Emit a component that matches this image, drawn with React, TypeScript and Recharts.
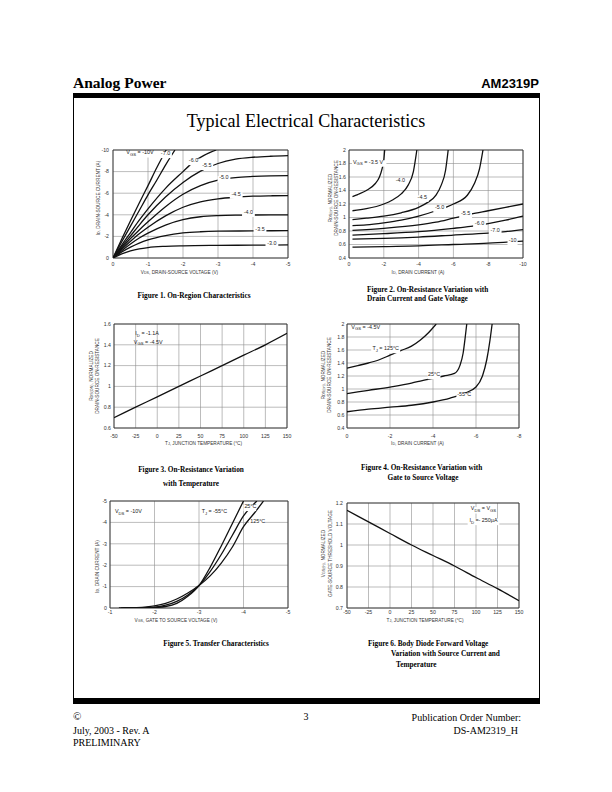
import React from "react";
import {
  CartesianGrid,
  Line,
  LineChart,
  ReferenceArea,
  ReferenceDot,
  XAxis,
  YAxis,
} from "recharts";

type XY = [number, number];

// ---------- Figure 1: I_D vs V_DS, one curve per V_GS ----------
const fig1Vds = [-5, -4, -3, -2, -1, 0];
const fig1Id = [-10, -8, -6, -4, -2, 0];
const fig1Vgs10: XY[] = [[0, 0], [-0.25, -1.75], [-0.5, -3.45], [-0.75, -5.1], [-1, -6.7], [-1.25, -8.35], [-1.52, -10]];
const fig1Vgs7: XY[] = [[0, 0], [-0.25, -1.5], [-0.5, -2.95], [-0.75, -4.4], [-1, -5.85], [-1.25, -7.2], [-1.5, -8.6], [-1.77, -10]];
const fig1Vgs6: XY[] = [[0, 0], [-0.25, -1.2], [-0.5, -2.35], [-0.75, -3.5], [-1, -4.55], [-1.5, -6.45], [-2, -8.0], [-2.3, -8.9], [-2.6, -9.5], [-2.95, -10]];
const fig1Vgs55: XY[] = [[0, 0], [-0.25, -1.05], [-0.5, -2.05], [-0.75, -3.05], [-1, -4.0], [-1.5, -5.65], [-2, -7.0], [-2.5, -8.05], [-3, -8.75], [-3.5, -9.15], [-4, -9.33], [-4.5, -9.42], [-5, -9.47]];
const fig1Vgs5: XY[] = [[0, 0], [-0.25, -0.92], [-0.5, -1.8], [-0.75, -2.6], [-1, -3.35], [-1.5, -4.75], [-2, -5.9], [-2.5, -6.7], [-3, -7.2], [-3.5, -7.45], [-4, -7.55], [-4.5, -7.6], [-5, -7.62]];
const fig1Vgs45: XY[] = [[0, 0], [-0.25, -0.8], [-0.5, -1.55], [-0.75, -2.25], [-1, -2.85], [-1.5, -3.9], [-2, -4.7], [-2.5, -5.2], [-3, -5.48], [-3.5, -5.63], [-4, -5.72], [-4.5, -5.76], [-5, -5.78]];
const fig1Vgs4: XY[] = [[0, 0], [-0.25, -0.68], [-0.5, -1.3], [-0.75, -1.85], [-1, -2.3], [-1.5, -3.05], [-2, -3.55], [-2.5, -3.82], [-3, -3.93], [-3.5, -3.97], [-4, -3.98], [-5, -4.0]];
const fig1Vgs35: XY[] = [[0, 0], [-0.25, -0.55], [-0.5, -1.0], [-0.75, -1.38], [-1, -1.68], [-1.5, -2.08], [-2, -2.32], [-2.5, -2.43], [-3, -2.48], [-4, -2.51], [-5, -2.53]];
const fig1Vgs3: XY[] = [[0, 0], [-0.25, -0.38], [-0.5, -0.66], [-0.75, -0.85], [-1, -0.97], [-1.5, -1.08], [-2, -1.13], [-3, -1.17], [-4, -1.19], [-5, -1.21]];

// ---------- Figure 2: R_DS(on) vs I_D per V_GS ----------
const fig2Id = [-10, -8, -6, -4, -2, 0];
const fig2IdMinor = [-9, -7, -5, -3, -1];
const fig2R = [0.4, 0.6, 0.8, 1, 1.2, 1.4, 1.6, 1.8, 2];
const fig2Vgs35: XY[] = [[-0.2, 1.31], [-0.5, 1.34], [-1, 1.4], [-1.5, 1.5], [-1.75, 1.6], [-1.9, 1.72], [-2, 1.85], [-2.05, 2]];
const fig2Vgs4: XY[] = [[-0.2, 1.1], [-1, 1.13], [-2, 1.2], [-2.5, 1.26], [-3, 1.35], [-3.4, 1.48], [-3.7, 1.68], [-3.9, 2]];
const fig2Vgs45: XY[] = [[-0.2, 0.97], [-1, 0.99], [-2, 1.02], [-3, 1.07], [-4, 1.15], [-4.5, 1.22], [-5, 1.33], [-5.3, 1.48], [-5.55, 1.7], [-5.7, 2]];
const fig2Vgs5: XY[] = [[-0.2, 0.88], [-1, 0.89], [-2, 0.92], [-3, 0.96], [-4, 1.02], [-5, 1.1], [-6, 1.2], [-6.8, 1.33], [-7.2, 1.5], [-7.5, 1.72], [-7.7, 2]];
const fig2Vgs55: XY[] = [[-0.2, 0.81], [-2, 0.84], [-4, 0.89], [-5, 0.93], [-6, 0.99], [-7, 1.05], [-8, 1.1], [-9, 1.15], [-10, 1.2]];
const fig2Vgs6: XY[] = [[-0.2, 0.74], [-2, 0.76], [-4, 0.79], [-6, 0.84], [-7, 0.87], [-8, 0.91], [-9, 0.96], [-10, 1.02]];
const fig2Vgs7: XY[] = [[-0.2, 0.68], [-2, 0.69], [-4, 0.71], [-6, 0.74], [-8, 0.77], [-9, 0.79], [-10, 0.82]];
const fig2Vgs10: XY[] = [[-0.2, 0.56], [-2, 0.57], [-4, 0.58], [-6, 0.6], [-8, 0.62], [-10, 0.65]];

// ---------- Figure 3: R_DS(on) vs T_J ----------
const tempTicks = [-50, -25, 0, 25, 50, 75, 100, 125, 150];
const tempMinor = [
  -45, -40, -35, -30, -20, -15, -10, -5, 5, 10, 15, 20, 30, 35, 40, 45,
  55, 60, 65, 70, 80, 85, 90, 95, 105, 110, 115, 120, 130, 135, 140, 145,
];
const fig3R = [0.6, 0.8, 1, 1.2, 1.4, 1.6];
const fig3Curve: XY[] = [[-50, 0.7], [-25, 0.8], [0, 0.9], [25, 1.0], [50, 1.1], [75, 1.2], [100, 1.3], [125, 1.4], [150, 1.51]];

// ---------- Figure 4: R_DS(on) vs I_D per T_J ----------
const fig4Id = [-8, -6, -4, -2, 0];
const fig4IdMinor = [-7, -5, -3, -1];
const fig4R = [0.4, 0.6, 0.8, 1, 1.2, 1.4, 1.6, 1.8, 2];
const fig4T125: XY[] = [[0, 1.32], [-0.5, 1.36], [-1, 1.4], [-1.5, 1.45], [-2, 1.52], [-2.5, 1.59], [-3, 1.66], [-3.4, 1.75], [-3.8, 1.87], [-4.15, 2]];
const fig4T25: XY[] = [[0, 0.93], [-1, 0.98], [-2, 1.03], [-3, 1.09], [-3.5, 1.13], [-4.5, 1.2], [-5, 1.24], [-5.25, 1.36], [-5.4, 1.55], [-5.5, 1.8], [-5.57, 2]];
const fig4Tm55: XY[] = [[0, 0.65], [-1, 0.69], [-2, 0.72], [-3, 0.75], [-4, 0.8], [-4.8, 0.86], [-5.5, 0.94], [-6, 1.03], [-6.3, 1.2], [-6.5, 1.45], [-6.65, 1.75], [-6.75, 2]];

// ---------- Figure 5: I_D vs V_GS per T_J ----------
const fig5Vgs = [-5, -4, -3, -2, -1];
const fig5Id = [-5, -4, -3, -2, -1, 0];
const fig5Tm55: XY[] = [[-1.3, 0], [-1.8, -0.01], [-2, -0.02], [-2.25, -0.07], [-2.5, -0.22], [-2.75, -0.55], [-3, -1.05], [-3.25, -1.9], [-3.5, -2.9], [-3.75, -3.95], [-4, -5]];
const fig5T25: XY[] = [[-1.25, 0], [-1.8, -0.02], [-2, -0.04], [-2.25, -0.13], [-2.5, -0.31], [-2.75, -0.61], [-3, -1.05], [-3.25, -1.7], [-3.5, -2.5], [-3.75, -3.4], [-4, -4.3], [-4.3, -5]];
const fig5T125: XY[] = [[-1.2, 0], [-1.6, -0.02], [-2, -0.1], [-2.25, -0.22], [-2.5, -0.42], [-2.75, -0.7], [-3, -1.05], [-3.25, -1.5], [-3.5, -2.1], [-3.75, -2.85], [-4, -3.8], [-4.25, -4.45], [-4.45, -5]];

// ---------- Figure 6: V_GS(th) vs T_J ----------
const fig6V = [0.7, 0.8, 0.9, 1, 1.1, 1.2];
const fig6Curve: XY[] = [[-50, 1.165], [-25, 1.11], [0, 1.055], [25, 1.0], [50, 0.95], [75, 0.9], [100, 0.845], [125, 0.792], [150, 0.735]];

const SANS = '"Liberation Sans", Arial, Helvetica, sans-serif';
const SERIF = '"Liberation Serif", "Times New Roman", Times, serif';
const PAD = { l: 44, t: 6, r: 8, b: 30 };

interface Tag {
  x: number;
  y: number;
  text: string;
  anchor?: "start" | "middle" | "end";
  bg?: boolean;
}

interface PanelProps {
  x: number;
  y: number;
  w: number;
  h: number;
  xDomain: [number, number];
  yDomain: [number, number];
  xTicks: number[];
  xMinor?: number[];
  yTicks: number[];
  xRev?: boolean;
  yRev?: boolean;
  xGap: number;
  yGap: number;
  curves: XY[][];
  tags: Tag[];
  yTitle: { lines: string[]; dx: number[]; dy: number };
  xTitle: { text: string; dx: number; dy: number };
}

// "I_{D}" style text -> tspans with subscripts
function Rich({ text, fs }: { text: string; fs: number }) {
  const parts = text.split(/(_\{[^}]*\})/).filter((p) => p !== "");
  let shifted = false;
  return (
    <>
      {parts.map((p, i) => {
        const m = p.match(/^_\{(.*)\}$/);
        if (m) {
          shifted = true;
          return (
            <tspan key={i} dy={fs * 0.3} fontSize={fs * 0.78}>
              {m[1]}
            </tspan>
          );
        }
        const dy = shifted ? -fs * 0.3 : 0;
        shifted = false;
        return (
          <tspan key={i} dy={dy}>
            {p}
          </tspan>
        );
      })}
    </>
  );
}

const plainLen = (t: string) => t.replace(/_\{([^}]*)\}/g, "$1").length;

function TagMark({ cx, cy, tag }: { cx: number; cy: number; tag: Tag }) {
  const fs = 5.4;
  const anchor = tag.anchor ?? "middle";
  const w = plainLen(tag.text) * fs * 0.5 + 2;
  const x0 = anchor === "start" ? cx - 1 : anchor === "end" ? cx - w + 1 : cx - w / 2;
  return (
    <g>
      {tag.bg !== false && (
        <rect x={x0} y={cy - fs * 0.6} width={w} height={fs * 1.2} fill="#fff" />
      )}
      <text
        x={cx}
        y={cy}
        dy={fs * 0.35}
        textAnchor={anchor}
        fontSize={fs}
        fontFamily={SANS}
        fill="#222"
      >
        <Rich text={tag.text} fs={fs} />
      </text>
    </g>
  );
}

function Panel(p: PanelProps) {
  const W = p.w + PAD.l + PAD.r;
  const H = p.h + PAD.t + PAD.b;
  const midX = PAD.l + p.w / 2;
  const midY = PAD.t + p.h / 2;
  const tickStyle = { fontSize: 5.2, fill: "#333", fontFamily: SANS };
  const titleFs = 4.7;
  return (
    <div style={{ position: "absolute", left: p.x - PAD.l, top: p.y - PAD.t, width: W, height: H }}>
      <LineChart width={W} height={H} margin={{ top: PAD.t, right: PAD.r, left: 0, bottom: 0 }}>
        <CartesianGrid stroke="#8f8f8f" strokeWidth={0.6} />
        <XAxis
          type="number"
          dataKey="x"
          domain={p.xDomain}
          ticks={p.xTicks}
          reversed={p.xRev}
          allowDataOverflow
          interval={0}
          height={PAD.b}
          axisLine={false}
          tickLine={false}
          tickSize={0}
          tickMargin={p.xGap}
          tick={tickStyle}
        />
        {p.xMinor && (
          <XAxis
            xAxisId="minor"
            type="number"
            dataKey="x"
            domain={p.xDomain}
            ticks={p.xMinor}
            reversed={p.xRev}
            allowDataOverflow
            interval={0}
            mirror
            axisLine={false}
            tick={false}
            tickLine={{ stroke: "#444", strokeWidth: 0.6 }}
            tickSize={1.8}
          />
        )}
        <YAxis
          type="number"
          domain={p.yDomain}
          ticks={p.yTicks}
          reversed={p.yRev}
          allowDataOverflow
          interval={0}
          width={PAD.l}
          axisLine={false}
          tickLine={false}
          tickSize={0}
          tickMargin={p.yGap}
          tick={tickStyle}
        />
        <ReferenceArea
          x1={p.xDomain[0]}
          x2={p.xDomain[1]}
          y1={p.yDomain[0]}
          y2={p.yDomain[1]}
          fill="none"
          fillOpacity={0}
          stroke="#333"
          strokeWidth={0.9}
        />
        {p.curves.map((c, i) => (
          <Line
            key={i}
            data={c.map(([x, y]) => ({ x, y }))}
            dataKey="y"
            type="monotone"
            stroke="#111"
            strokeWidth={1.3}
            dot={false}
            activeDot={false}
            isAnimationActive={false}
          />
        ))}
        {p.tags.map((t, i) => (
          <ReferenceDot
            key={`tag-${i}`}
            x={t.x}
            y={t.y}
            r={0}
            ifOverflow="visible"
            shape={(props: any) => <TagMark cx={props.cx} cy={props.cy} tag={t} />}
          />
        ))}
      </LineChart>
      <svg
        width={W}
        height={H}
        style={{ position: "absolute", left: 0, top: 0, pointerEvents: "none", overflow: "visible" }}
      >
        {p.yTitle.lines.map((line, i) => (
          <text
            key={i}
            transform={`translate(${PAD.l + p.yTitle.dx[i]},${midY + p.yTitle.dy}) rotate(-90)`}
            textAnchor="middle"
            dominantBaseline="central"
            fontSize={titleFs}
            fontFamily={SANS}
            fill="#333"
          >
            <Rich text={line} fs={titleFs} />
          </text>
        ))}
        <text
          x={midX + p.xTitle.dx}
          y={PAD.t + p.h + p.xTitle.dy}
          textAnchor="middle"
          dominantBaseline="central"
          fontSize={titleFs}
          fontFamily={SANS}
          fill="#333"
        >
          <Rich text={p.xTitle.text} fs={titleFs} />
        </text>
      </svg>
    </div>
  );
}

function Txt({
  x,
  y,
  size,
  bold,
  align = "left",
  font = SERIF,
  children,
}: {
  x: number;
  y: number;
  size: number;
  bold?: boolean;
  align?: "left" | "right" | "center";
  font?: string;
  children: React.ReactNode;
}) {
  // y is the baseline
  const style: React.CSSProperties = {
    position: "absolute",
    top: y - size * 0.84,
    fontSize: size,
    lineHeight: `${size}px`,
    fontWeight: bold ? 700 : 400,
    fontFamily: font,
    whiteSpace: "nowrap",
  };
  if (align === "left") style.left = x;
  else if (align === "right") style.right = 612 - x;
  else {
    style.left = x;
    style.transform = "translateX(-50%)";
  }
  return <div style={style}>{children}</div>;
}

export default function App() {
  return (
    <div
      style={{
        position: "absolute",
        left: 0,
        top: 0,
        width: 612,
        height: 792,
        background: "#fff",
        color: "#000",
        fontFamily: SERIF,
        overflow: "hidden",
      }}
    >
      {/* header */}
      <Txt x={73} y={88} size={15.5} bold>
        Analog Power
      </Txt>
      <Txt x={539} y={88} size={13} bold align="right" font={SANS}>
        AM2319P
      </Txt>
      <div style={{ position: "absolute", left: 72.5, top: 93, width: 467.5, height: 5, background: "#000" }} />
      <div
        style={{
          position: "absolute",
          left: 72.5,
          top: 97,
          width: 467.5,
          height: 602,
          boxSizing: "border-box",
          border: "1.3px solid #000",
        }}
      />
      <div style={{ position: "absolute", left: 72.5, top: 698, width: 467.5, height: 6, background: "#000" }} />
      <Txt x={306} y={127} size={18} align="center">
        Typical Electrical Characteristics
      </Txt>

      {/* Figure 1 */}
      <Panel
        x={113}
        y={150}
        w={175}
        h={108}
        xDomain={[-5, 0]}
        yDomain={[-10, 0]}
        xTicks={fig1Vds}
        yTicks={fig1Id}
        xRev
        yRev
        xGap={4.5}
        yGap={4}
        curves={[fig1Vgs10, fig1Vgs7, fig1Vgs6, fig1Vgs55, fig1Vgs5, fig1Vgs45, fig1Vgs4, fig1Vgs35, fig1Vgs3]}
        tags={[
          { x: -0.38, y: -9.6, text: "V_{GS} = -10V", anchor: "start" },
          { x: -1.5, y: -9.55, text: "-7.0" },
          { x: -2.3, y: -8.9, text: "-6.0" },
          { x: -2.68, y: -8.44, text: "-5.5" },
          { x: -3.17, y: -7.28, text: "-5.0" },
          { x: -3.52, y: -5.78, text: "-4.5" },
          { x: -3.87, y: -4.1, text: "-4.0" },
          { x: -4.2, y: -2.53, text: "-3.5" },
          { x: -4.54, y: -1.18, text: "-3.0" },
        ]}
        yTitle={{ lines: ["I_{D}, DRAIN-SOURCE CURRENT (A)"], dx: [-15], dy: -6 }}
        xTitle={{ text: "V_{DS}, DRAIN-SOURCE VOLTAGE (V)", dx: -21, dy: 14 }}
      />

      {/* Figure 2 */}
      <Panel
        x={349}
        y={150}
        w={174}
        h={108}
        xDomain={[-10, 0]}
        yDomain={[0.4, 2]}
        xTicks={fig2Id}
        xMinor={fig2IdMinor}
        yTicks={fig2R}
        xRev
        xGap={4.5}
        yGap={3}
        curves={[fig2Vgs35, fig2Vgs4, fig2Vgs45, fig2Vgs5, fig2Vgs55, fig2Vgs6, fig2Vgs7, fig2Vgs10]}
        tags={[
          { x: -0.23, y: 1.8, text: "V_{GS} = -3.5 V", anchor: "start" },
          { x: -2.95, y: 1.53, text: "-4.0" },
          { x: -4.21, y: 1.28, text: "-4.5" },
          { x: -5.21, y: 1.13, text: "-5.0" },
          { x: -6.7, y: 1.03, text: "-5.5" },
          { x: -7.5, y: 0.89, text: "-6.0" },
          { x: -8.4, y: 0.78, text: "-7.0" },
          { x: -9.4, y: 0.64, text: "-10" },
        ]}
        yTitle={{ lines: ["R_{DS(on)}, NORMALIZED", "DRAIN-SOURCE ON-RESISTANCE"], dx: [-19, -13.5], dy: -6 }}
        xTitle={{ text: "I_{D}, DRAIN CURRENT (A)", dx: -18, dy: 14 }}
      />
      <Txt x={303} y={298} size={7.3} bold align="center">
        <span style={{ position: "relative", left: -109 }}>Figure 1. On-Region Characteristics</span>
      </Txt>
      <Txt x={367} y={292} size={7.3} bold>
        Figure 2. On-Resistance Variation with
      </Txt>
      <Txt x={367} y={301} size={7.3} bold>
        Drain Current and Gate Voltage
      </Txt>

      {/* Figure 3 */}
      <Panel
        x={114}
        y={324}
        w={173}
        h={104}
        xDomain={[-50, 150]}
        yDomain={[0.6, 1.6]}
        xTicks={tempTicks}
        xMinor={tempMinor}
        yTicks={fig3R}
        xGap={6}
        yGap={3}
        curves={[fig3Curve]}
        tags={[
          { x: -25.3, y: 1.49, text: "I_{D} = -1.1A", anchor: "start", bg: false },
          { x: -27.1, y: 1.41, text: "V_{GS} = -4.5V", anchor: "start", bg: false },
        ]}
        yTitle={{ lines: ["R_{DS(ON)}, NORMALIZED", "DRAIN-SOURCE ON-RESISTANCE"], dx: [-23, -17], dy: 0 }}
        xTitle={{ text: "T_{J}, JUNCTION TEMPERATURE (°C)", dx: 3, dy: 15 }}
      />

      {/* Figure 4 */}
      <Panel
        x={347}
        y={324}
        w={172}
        h={104}
        xDomain={[-8, 0]}
        yDomain={[0.4, 2]}
        xTicks={fig4Id}
        xMinor={fig4IdMinor}
        yTicks={fig4R}
        xRev
        xGap={6}
        yGap={2.5}
        curves={[fig4T125, fig4T25, fig4Tm55]}
        tags={[
          { x: -0.2, y: 1.93, text: "V_{GS} = -4.5V", anchor: "start", bg: false },
          { x: -1.8, y: 1.6, text: "T_{J} = 125°C" },
          { x: -4.05, y: 1.2, text: "25°C" },
          { x: -5.45, y: 0.89, text: "-55°C" },
        ]}
        yTitle={{ lines: ["R_{DS(on)}, NORMALIZED", "DRAIN-SOURCE ON-RESISTANCE"], dx: [-24, -18], dy: -1 }}
        xTitle={{ text: "I_{D}, DRAIN CURRENT (A)", dx: -15.5, dy: 15 }}
      />
      <Txt x={191} y={472} size={7.3} bold align="center">
        Figure 3. On-Resistance Variation
      </Txt>
      <Txt x={191} y={486} size={7.3} bold align="center">
        with Temperature
      </Txt>
      <Txt x={361} y={470} size={7.3} bold>
        Figure 4. On-Resistance Variation with
      </Txt>
      <Txt x={423} y={480} size={7.3} bold align="center">
        Gate to Source Voltage
      </Txt>

      {/* Figure 5 */}
      <Panel
        x={110}
        y={501}
        w={178}
        h={107}
        xDomain={[-5, -1]}
        yDomain={[-5, 0]}
        xTicks={fig5Vgs}
        yTicks={fig5Id}
        xRev
        yRev
        xGap={2.5}
        yGap={3}
        curves={[fig5Tm55, fig5T25, fig5T125]}
        tags={[
          { x: -1.11, y: -4.42, text: "V_{DS} = -10V", anchor: "start", bg: false },
          { x: -3.06, y: -4.42, text: "T_{J} = -55°C", anchor: "start", bg: false },
          { x: -4.02, y: -4.68, text: "25°C", anchor: "start" },
          { x: -4.15, y: -3.95, text: "125°C", anchor: "start" },
        ]}
        yTitle={{ lines: ["I_{D}, DRAIN CURRENT (A)"], dx: [-13.3], dy: 12 }}
        xTitle={{ text: "V_{GS}, GATE TO SOURCE VOLTAGE (V)", dx: -23, dy: 12 }}
      />

      {/* Figure 6 */}
      <Panel
        x={347}
        y={503}
        w={172}
        h={105}
        xDomain={[-50, 150]}
        yDomain={[0.7, 1.2]}
        xTicks={tempTicks}
        xMinor={tempMinor}
        yTicks={fig6V}
        xGap={2.5}
        yGap={4}
        curves={[fig6Curve]}
        tags={[
          { x: 108.7, y: 1.165, text: "V_{DS} = V_{GS}" },
          { x: 108.7, y: 1.11, text: "I_{D} =- 250µA" },
        ]}
        yTitle={{ lines: ["V_{GS(th)}, NORMALIZED", "GATE-SOURCE THRESHOLD VOLTAGE"], dx: [-24, -16.6], dy: -2 }}
        xTitle={{ text: "T_{J}, JUNCTION TEMPERATURE (°C)", dx: -8, dy: 12 }}
      />
      <Txt x={216} y={646} size={7.3} bold align="center">
        Figure 5. Transfer Characteristics
      </Txt>
      <Txt x={368} y={646} size={7.3} bold>
        Figure 6. Body Diode Forward Voltage
      </Txt>
      <Txt x={391} y={656} size={7.3} bold>
        Variation with Source Current and
      </Txt>
      <Txt x={396} y={667} size={7.3} bold>
        Temperature
      </Txt>

      {/* footer */}
      <Txt x={73} y={720} size={11}>
        ©
      </Txt>
      <Txt x={306} y={720} size={10} align="center">
        3
      </Txt>
      <Txt x={521} y={721} size={10} align="right">
        Publication Order Number:
      </Txt>
      <Txt x={73} y={734} size={10}>
        July, 2003 - Rev. A
      </Txt>
      <Txt x={518} y={734} size={10} align="right">
        DS-AM2319_H
      </Txt>
      <Txt x={73} y={746} size={10}>
        PRELIMINARY
      </Txt>
    </div>
  );
}
